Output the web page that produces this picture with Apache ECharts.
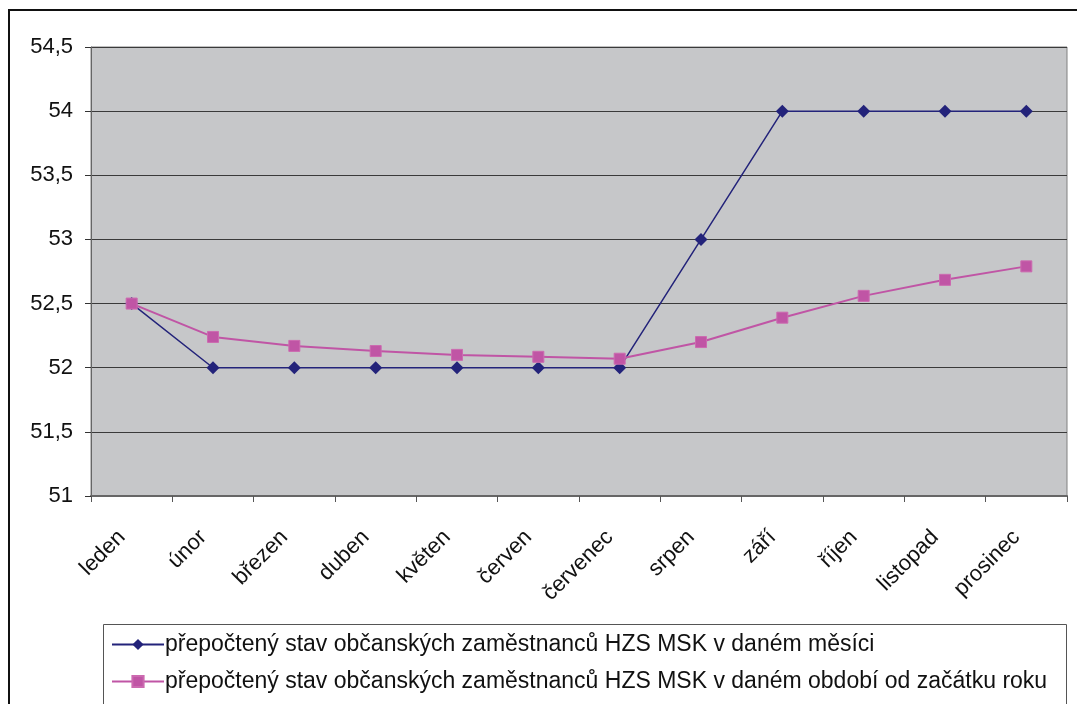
<!DOCTYPE html>
<html><head><meta charset="utf-8">
<script src="https://cdn.jsdelivr.net/npm/echarts@6/dist/echarts.min.js"></script>
<style>html,body{margin:0;padding:0;background:#fff}#c{width:1077px;height:704px}</style>
</head><body><div id="c"></div>
<script>
const categories = ['leden','únor','březen','duben','květen','červen','červenec','srpen','září','říjen','listopad','prosinec'];
const monthly = [52.5, 52, 52, 52, 52, 52, 52, 53, 54, 54, 54, 54];
const cumulative = [52.5, 52.24, 52.17, 52.13, 52.10, 52.085, 52.07, 52.2, 52.39, 52.56, 52.685, 52.79];
const seriesNames = ['přepočtený stav občanských zaměstnanců HZS MSK v daném měsíci','přepočtený stav občanských zaměstnanců HZS MSK v daném období od začátku roku'];
const yTicks = {min: 51, max: 54.5, interval: 0.5};

const font = 'Liberation Sans, Arial, sans-serif';
const chart = echarts.init(document.getElementById('c'));
chart.setOption({
  animation: false,
  backgroundColor: '#fff',
  grid: {left: 91, right: 10, top: 47, bottom: 208, show: true, backgroundColor: '#c6c7c9', borderColor: '#808080', borderWidth: 1},
  graphic: [
    {type: 'rect', shape: {x: 9, y: 10, width: 1080, height: 700}, style: {fill: 'none', stroke: '#111', lineWidth: 2}, z: -1},
    {type: 'rect', shape: {x: 103.5, y: 624.5, width: 963, height: 100}, style: {fill: 'none', stroke: '#555', lineWidth: 1}}
  ],
  legend: {
    orient: 'vertical', left: 106, top: 628, itemGap: 14, itemWidth: 52, itemHeight: 14,
    textStyle: {fontFamily: font, fontSize: 23, color: '#111', padding: [0, 0, 0, -4]},
    data: seriesNames
  },
  xAxis: {
    type: 'category', data: categories, boundaryGap: true,
    axisLine: {lineStyle: {color: '#666', width: 2}},
    axisTick: {show: true, length: 6, lineStyle: {color: '#555'}},
    axisLabel: {rotate: 45, fontFamily: font, fontSize: 22, color: '#111', margin: 28, padding: [0, 14, 0, 0], interval: 0}
  },
  yAxis: {
    type: 'value', min: yTicks.min, max: yTicks.max, interval: yTicks.interval,
    axisLine: {show: true, lineStyle: {color: '#666'}},
    axisTick: {show: true, length: 6, lineStyle: {color: '#333'}},
    splitLine: {lineStyle: {color: '#3a3a3a', width: 1}},
    axisLabel: {fontFamily: font, fontSize: 22, color: '#111', margin: 18, formatter: v => String(v).replace('.', ',')}
  },
  series: [
    {name: seriesNames[0], type: 'line', data: monthly, symbol: 'diamond', symbolSize: 13,
     lineStyle: {color: '#23237a', width: 1.5}, itemStyle: {color: '#23237a'}},
    {name: seriesNames[1], type: 'line', data: cumulative, symbol: 'rect', symbolSize: 11,
     lineStyle: {color: '#c055a5', width: 2}, itemStyle: {color: '#c055a5', borderColor: '#cc6ab0', borderWidth: 1}}
  ]
});
</script></body></html>
